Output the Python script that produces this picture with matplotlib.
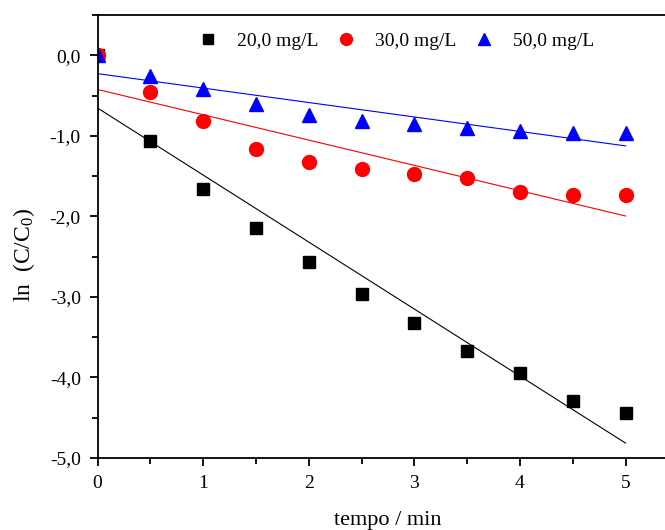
import numpy as np
import matplotlib
matplotlib.use('Agg')
import matplotlib.pyplot as plt
from matplotlib.ticker import MultipleLocator, FuncFormatter

plt.rcParams['font.family'] = ['Liberation Serif', 'DejaVu Serif']
plt.rcParams['mathtext.fontset'] = 'custom'
plt.rcParams['mathtext.rm'] = 'Liberation Serif'
plt.rcParams['mathtext.it'] = 'Liberation Serif'

# dados
tempo = [0, 0.5, 1.0, 1.5, 2.0, 2.5, 3.0, 3.5, 4.0, 4.5, 5.0]
ln_20 = [0, -1.07, -1.66, -2.14, -2.57, -2.97, -3.32, -3.67, -3.95, -4.29, -4.44]
ln_30 = [0, -0.45, -0.82, -1.16, -1.32, -1.41, -1.47, -1.52, -1.70, -1.73, -1.73]
ln_50 = [0, -0.26, -0.42, -0.60, -0.74, -0.81, -0.85, -0.90, -0.94, -0.96, -0.96]
labels = ['20,0 mg/L', '30,0 mg/L', '50,0 mg/L']

fig = plt.figure(figsize=(6.65, 5.30), dpi=100)
W, H = 665, 530
# eixo vai alem da borda direita (imagem recortada)
ax = fig.add_axes([97.5 / W, (H - 458) / H, 5.5 * 105.6 / W, 443 / H])

x = np.array(tempo)
series = [
    (ln_20, 's', 'black', 9),
    (ln_30, 'o', 'red', 10),
    (ln_50, '^', 'blue', 10.5),
]
handles = []
for (y, mk, c, ms), lab in zip(series, labels):
    y = np.array(y)
    a, b = np.polyfit(x, y, 1)
    ax.plot(x, a * x + b, color=c, lw=0.8, zorder=2)
    h, = ax.plot(x, y, ls='none', marker=mk, color=c, ms=ms, mec=c, zorder=3,
                 label=lab)
    handles.append(h)

ax.set_xlim(0, 5.5)
ax.set_ylim(-5.0, 0.5)
ax.xaxis.set_major_locator(MultipleLocator(1))
ax.xaxis.set_minor_locator(MultipleLocator(0.5))
ax.yaxis.set_major_locator(MultipleLocator(1))
ax.yaxis.set_minor_locator(MultipleLocator(0.5))
ax.yaxis.set_major_formatter(FuncFormatter(lambda v, p: ('%.1f' % v).replace('.', ',').replace('-0,0', '0,0')))
ax.xaxis.set_major_formatter(FuncFormatter(lambda v, p: '%d' % round(v)))

ax.tick_params(which='major', direction='out', length=6, width=1.3, labelsize=14, pad=6)
ax.tick_params(which='minor', direction='out', length=4, width=1.3)
ax.tick_params(top=False, right=False)
for s in ['left', 'bottom', 'top']:
    ax.spines[s].set_linewidth(1.3)
    ax.spines[s].set_zorder(5)
ax.spines['right'].set_visible(False)

ax.set_xlabel('tempo / min', fontsize=16, labelpad=14)
ax.set_ylabel(r'ln  (C/C$_0$)', fontsize=17, labelpad=8)
ax.yaxis.set_label_coords(-0.105, 0.458)

ax.legend(handles=handles, loc='upper left', bbox_to_anchor=(0.133, 1.0), ncol=3,
          frameon=False, fontsize=14, handletextpad=0.7, columnspacing=0.62,
          handlelength=1.6, markerscale=0.85, borderaxespad=0.5)

fig.savefig('out.png', dpi=100)
